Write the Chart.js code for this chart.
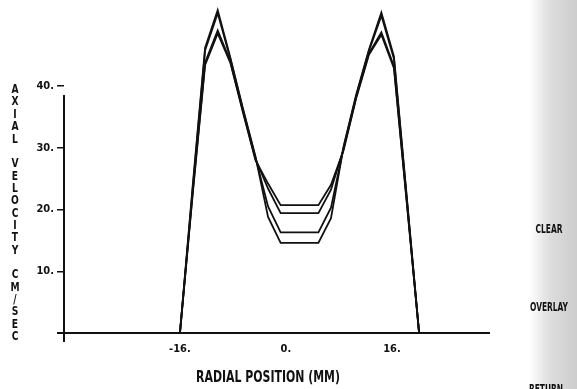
<!DOCTYPE html>
<html>
<head>
<meta charset="utf-8">
<script src="https://cdn.jsdelivr.net/npm/chart.js@4/dist/chart.umd.min.js"></script>
<style>
  html, body { margin: 0; padding: 0; background: #fff; }
  #wrap { width: 577px; height: 389px; position: relative; overflow: hidden; }
</style>
</head>
<body>
<div id="wrap"><canvas id="c" width="577" height="389"></canvas></div>
<script>
// Radial sample positions (mm) across the channel
const radialPositions = [-16, -14.1, -12.2, -10.3, -8.4, -6.5, -4.6, -2.7, -0.8, 1.1,
                         3.0, 4.9, 6.8, 8.7, 10.6, 12.5, 14.4, 16.3, 18.2, 20.1];

// Axial velocity profiles (cm/sec), one per overlaid run
const run1 = [0, 23.5, 46.2, 52.3, 44.6, 36.4, 28.6, 18.8, 14.6, 14.6,
              14.6, 14.6, 18.6, 30.2, 38.6, 45.8, 51.9, 44.8, 22.5, 0];
const run2 = [0, 23.0, 45.8, 51.8, 44.4, 36.2, 28.4, 20.5, 16.3, 16.3,
              16.3, 16.3, 20.3, 30.0, 38.4, 45.6, 51.4, 44.4, 22.2, 0];
const run3 = [0, 22.5, 43.8, 49.0, 44.0, 36.0, 28.2, 23.4, 19.4, 19.4,
              19.4, 19.4, 23.2, 29.8, 38.2, 45.2, 48.7, 43.2, 21.8, 0];
const run4 = [0, 22.2, 43.4, 48.5, 43.8, 35.8, 28.0, 24.2, 20.7, 20.7,
              20.7, 20.7, 24.0, 29.6, 38.0, 45.0, 48.3, 42.9, 21.5, 0];

const xTicks = [-16, 0, 16];
const yTicks = [0, 10, 20, 30, 40];

const yTitle = "AXIAL VELOCITY CM/SEC";
const xTitle = "RADIAL POSITION (MM)";
const menuItems = ["CLEAR", "OVERLAY", "RETURN"];

const INK = '#111';
const tickFont = { family: "'DejaVu Sans Condensed', 'DejaVu Sans', sans-serif", size: 11, weight: 'bold' };
const narrow = "'Liberation Sans Narrow', 'DejaVu Sans Condensed', sans-serif";

const runs = [run1, run2, run3, run4];

// Horizontally compressed text, like the plotter's narrow lettering
function squeezedText(ctx, text, x, y, sx) {
  ctx.save();
  ctx.translate(x, y);
  ctx.scale(sx, 1);
  ctx.fillText(text, 0, 0);
  ctx.restore();
}

// Page background and the shaded menu strip on the right
const backdrop = {
  id: 'backdrop',
  beforeDraw(chart) {
    const ctx = chart.ctx;
    ctx.save();
    ctx.fillStyle = '#fff';
    ctx.fillRect(0, 0, chart.width, chart.height);
    const g = ctx.createLinearGradient(530, 0, chart.width, 0);
    g.addColorStop(0, 'rgba(215,215,215,0)');
    g.addColorStop(0.45, 'rgba(220,220,220,1)');
    g.addColorStop(1, 'rgba(205,205,205,1)');
    ctx.fillStyle = g;
    ctx.fillRect(530, 0, chart.width - 530, chart.height);
    ctx.restore();
  }
};

// Axis lines, stacked vertical title, horizontal title and menu labels
const decorations = {
  id: 'decorations',
  afterDraw(chart) {
    const ctx = chart.ctx;
    const a = chart.chartArea;
    ctx.save();
    ctx.strokeStyle = INK;
    ctx.lineWidth = 2;
    ctx.beginPath();
    ctx.moveTo(a.left, a.top + 9);
    ctx.lineTo(a.left, a.bottom + 9);
    ctx.moveTo(a.left - 7, a.bottom);
    ctx.lineTo(a.right, a.bottom);
    ctx.stroke();

    ctx.fillStyle = INK;
    ctx.textAlign = 'center';
    ctx.textBaseline = 'middle';
    ctx.font = "bold 12px 'DejaVu Sans Condensed', 'DejaVu Sans', sans-serif";
    const chars = yTitle.split('');
    const y0 = 90, step = 12.35;
    chars.forEach((ch, i) => {
      if (ch !== ' ') squeezedText(ctx, ch, 15, y0 + i * step, 0.85);
    });

    ctx.font = "bold 15px " + narrow;
    squeezedText(ctx, xTitle, 268, 378, 0.81);

    ctx.font = "bold 13px " + narrow;
    squeezedText(ctx, menuItems[0], 549, 230, 0.64);
    squeezedText(ctx, menuItems[1], 549, 308, 0.64);
    squeezedText(ctx, menuItems[2], 546, 390, 0.64);
    ctx.restore();
  }
};

new Chart(document.getElementById('c'), {
  type: 'line',
  data: {
    datasets: runs.map((r, i) => ({
      label: 'Run ' + (i + 1),
      data: radialPositions.map((x, k) => ({ x: x, y: r[k] })),
      borderColor: INK,
      borderWidth: 1.8,
      pointRadius: 0,
      tension: 0,
      fill: false,
      clip: false
    }))
  },
  options: {
    responsive: false,
    animation: false,
    devicePixelRatio: 1,
    layout: { padding: { left: 0, right: 87, top: 86, bottom: 0 } },
    plugins: { legend: { display: false }, tooltip: { enabled: false } },
    scales: {
      x: {
        type: 'linear',
        min: -33.5,
        max: 30.8,
        afterBuildTicks: s => { s.ticks = xTicks.map(v => ({ value: v })); },
        afterFit: s => { s.height = 56; },
        grid: { display: false, drawTicks: false },
        border: { display: false },
        ticks: {
          padding: 10, maxRotation: 0, autoSkip: false,
          color: INK, font: tickFont,
          callback: v => v + '.'
        }
      },
      y: {
        type: 'linear',
        min: 0,
        max: 40,
        afterBuildTicks: s => { s.ticks = yTicks.map(v => ({ value: v })); },
        afterFit: s => { s.width = 64; },
        grid: { display: true, drawOnChartArea: false, drawTicks: true, tickLength: 7, color: INK, lineWidth: 1.5 },
        border: { display: false },
        ticks: {
          padding: 3, color: INK, font: tickFont,
          callback: v => (v === 0 ? '' : v + '.')
        }
      }
    }
  },
  plugins: [backdrop, decorations]
});
</script>
</body>
</html>
